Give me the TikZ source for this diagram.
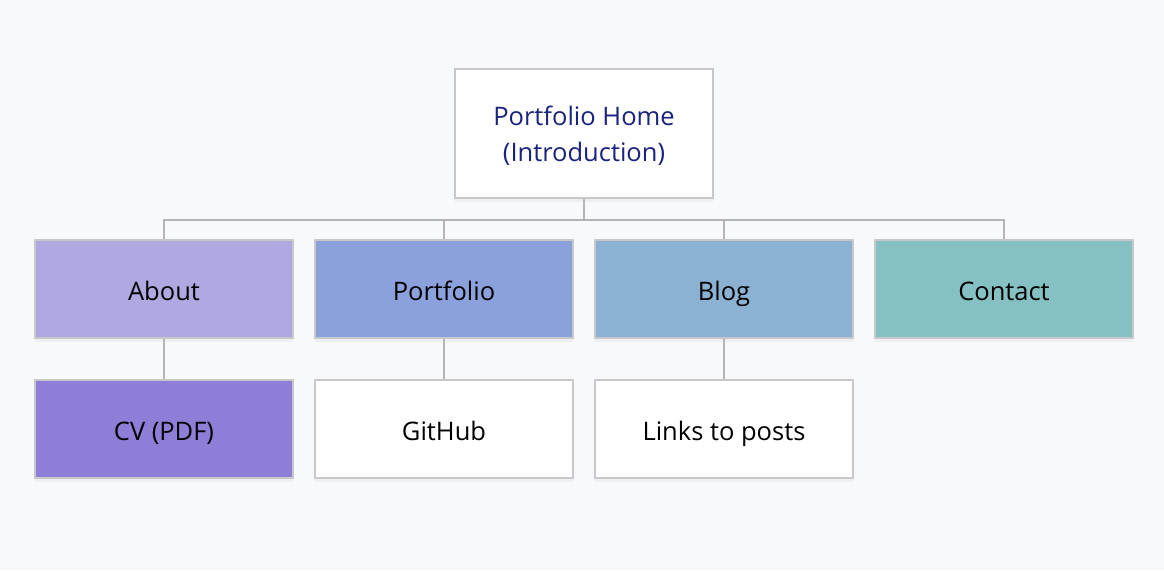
\documentclass[tikz,border=0pt]{standalone}
\usepackage{fontspec}
\setmainfont{Open Sans}
\usetikzlibrary{shadows}

\definecolor{bgcol}{HTML}{F8F9FB}
\definecolor{edgecol}{HTML}{C8C8CA}
\definecolor{navy}{HTML}{1A237E}
\definecolor{aboutcol}{HTML}{AEAAE1}
\definecolor{portcol}{HTML}{8AA1DC}
\definecolor{blogcol}{HTML}{8CB2D3}
\definecolor{contcol}{HTML}{85C0C2}
\definecolor{cvcol}{HTML}{8F7ED8}

\begin{document}
\begin{tikzpicture}[x=1pt,y=1pt,
    page/.style={draw=edgecol,line width=2pt,fill=white,minimum width=258pt,
      minimum height=98pt,align=center,font=\fontsize{25.5}{36}\selectfont,
      drop shadow={opacity=0.08,shadow xshift=0pt,shadow yshift=-4pt}},
    leaf/.style={page,text height=2.5em,text depth=0.2em},
    link/.style={draw=edgecol!90!black,line width=2pt}]
      \fill[bgcol] (0,0) rectangle (1164,-570) ;
      \node[page,minimum height=129pt,text=navy,text depth=0pt] (root) %
      at (584,-133.5) {Portfolio Home\\(Introduction)} ;
      \node[leaf,fill=aboutcol] (about) at (164,-289) {About} ;
      \node[leaf,fill=portcol] (portfolio) at (444,-289) {Portfolio} ;
      \node[leaf,fill=blogcol] (blog) at (724,-289) {Blog} ;
      \node[leaf,fill=contcol] (contact) at (1004,-289) {Contact} ;
      \node[leaf,fill=cvcol] (cv) at (164,-429) {CV (PDF)} ;
      \node[leaf] (github) at (444,-429) {GitHub} ;
      \node[leaf] (links) at (724,-429) {Links to posts} ;
      \coordinate (bus) at (584,-220) ;
      \draw[link] (root.south) -- (bus) ;
      \draw[link] (about.north) |- (bus) -| (contact.north) ;
      \draw[link] (portfolio.north) -- (portfolio.north |- bus) ;
      \draw[link] (blog.north) -- (blog.north |- bus) ;
      \draw[link] (about.south) -- (cv.north) ;
      \draw[link] (portfolio.south) -- (github.north) ;
      \draw[link] (blog.south) -- (links.north) ;
    \end{tikzpicture}
\end{document}
